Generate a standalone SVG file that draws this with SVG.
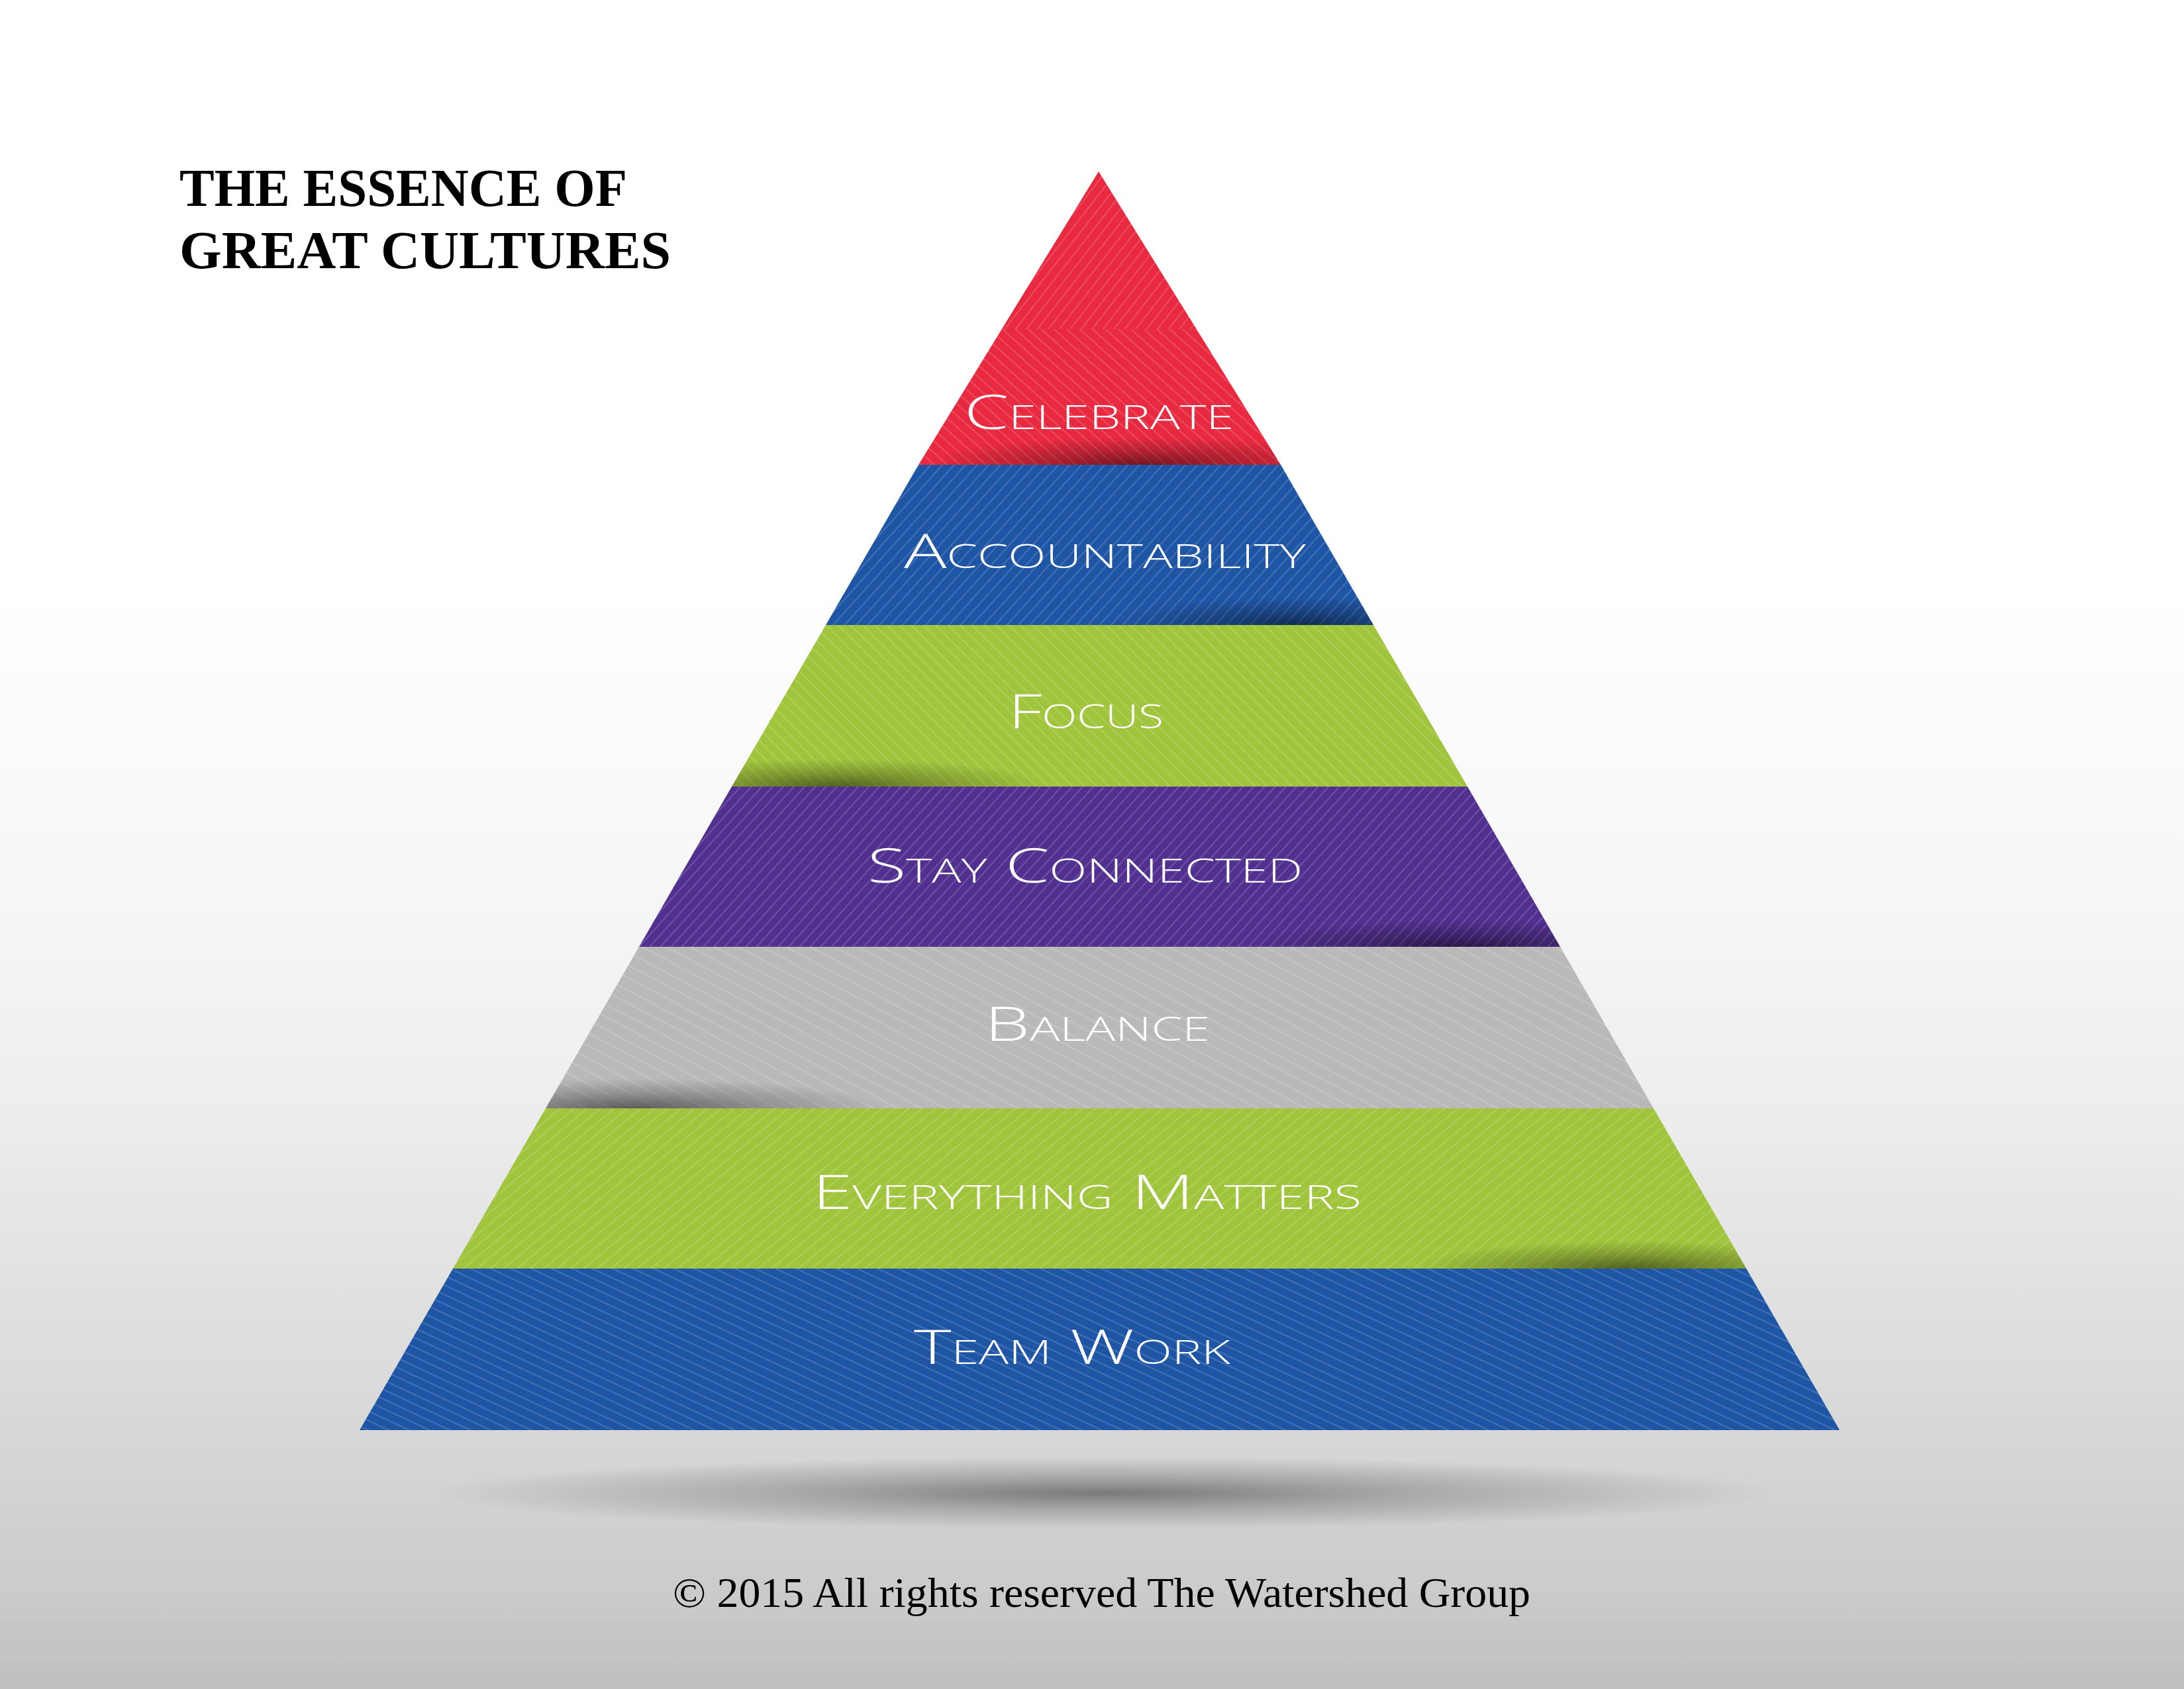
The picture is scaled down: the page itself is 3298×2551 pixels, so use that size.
<svg xmlns="http://www.w3.org/2000/svg" width="3298" height="2551" viewBox="0 0 3298 2551">
<style>
.title{font-family:"Liberation Serif","Times New Roman",serif;font-weight:bold;font-size:80px;fill:#000}
.foot{font-family:"Liberation Serif","Times New Roman",serif;font-size:64px;fill:#000}
.label{font-family:"Open Sans","Liberation Sans",sans-serif;font-weight:300;font-size:72px;font-variant:small-caps;fill:#fff}
.st{stroke:#fff;stroke-opacity:0.22;stroke-width:1.6}
</style>
<defs>
<linearGradient id="bg" x1="0" y1="0" x2="0" y2="1">
<stop offset="0" stop-color="#ffffff"/>
<stop offset="0.35" stop-color="#ffffff"/>
<stop offset="0.5" stop-color="#f8f8f8"/>
<stop offset="0.65" stop-color="#eeeeee"/>
<stop offset="0.85" stop-color="#d7d7d7"/>
<stop offset="0.95" stop-color="#cacaca"/>
<stop offset="1" stop-color="#bfbfbf"/>
</linearGradient>
<radialGradient id="sh">
<stop offset="0" stop-color="#000" stop-opacity="0.5"/>
<stop offset="0.5" stop-color="#000" stop-opacity="0.22"/>
<stop offset="1" stop-color="#000" stop-opacity="0"/>
</radialGradient>
<radialGradient id="ground">
<stop offset="0" stop-color="#000" stop-opacity="0.42"/>
<stop offset="0.45" stop-color="#000" stop-opacity="0.2"/>
<stop offset="1" stop-color="#000" stop-opacity="0"/>
</radialGradient>
<pattern id="pRedUp" width="40" height="13" patternUnits="userSpaceOnUse" patternTransform="rotate(-52)"><line class="st" x1="0" y1="6.5" x2="40" y2="6.5"/></pattern>
<pattern id="pRedDn" width="40" height="13" patternUnits="userSpaceOnUse" patternTransform="rotate(42)"><line class="st" x1="0" y1="6.5" x2="40" y2="6.5"/></pattern>
<pattern id="pAcc" width="40" height="13" patternUnits="userSpaceOnUse" patternTransform="rotate(-48)"><line class="st" x1="0" y1="6.5" x2="40" y2="6.5"/></pattern>
<pattern id="pFocus" width="40" height="13" patternUnits="userSpaceOnUse" patternTransform="rotate(45)"><line class="st" x1="0" y1="6.5" x2="40" y2="6.5"/></pattern>
<pattern id="pStay" width="40" height="12" patternUnits="userSpaceOnUse" patternTransform="rotate(-48)"><line class="st" x1="0" y1="6" x2="40" y2="6"/></pattern>
<pattern id="pBal" width="40" height="17" patternUnits="userSpaceOnUse" patternTransform="rotate(28)"><line class="st" x1="0" y1="8.5" x2="40" y2="8.5" stroke-opacity="0.3"/></pattern>
<pattern id="pEvery" width="40" height="13" patternUnits="userSpaceOnUse" patternTransform="rotate(-40)"><line class="st" x1="0" y1="6.5" x2="40" y2="6.5"/></pattern>
<pattern id="pTeam" width="40" height="13" patternUnits="userSpaceOnUse" patternTransform="rotate(25)"><line class="st" x1="0" y1="6.5" x2="40" y2="6.5" stroke-opacity="0.18"/></pattern>
<clipPath id="cRed"><polygon points="1659,259 1934,702 1387,702"/></clipPath>
<clipPath id="cAcc"><polygon points="1387,702 1934,702 2074,944 1247,944"/></clipPath>
<clipPath id="cFocus"><polygon points="1247,944 2074,944 2216,1188 1105,1188"/></clipPath>
<clipPath id="cStay"><polygon points="1105,1188 2216,1188 2356,1430 965,1430"/></clipPath>
<clipPath id="cBal"><polygon points="965,1430 2356,1430 2497,1674 824,1674"/></clipPath>
<clipPath id="cEvery"><polygon points="824,1674 2497,1674 2637,1916 684,1916"/></clipPath>
</defs>

<rect x="0" y="0" width="3298" height="2551" fill="url(#bg)"/>
<ellipse cx="1665" cy="2255" rx="1020" ry="55" fill="url(#ground)"/>

<g id="title">
<text class="title" x="271" y="311" textLength="676" lengthAdjust="spacingAndGlyphs">THE ESSENCE OF</text>
<text class="title" x="271" y="405" textLength="742" lengthAdjust="spacingAndGlyphs">GREAT CULTURES</text>
</g>

<g id="band-celebrate">
<polygon points="1659,259 1934,702 1387,702" fill="#e8293f"/>
<g clip-path="url(#cRed)">
<rect x="1380" y="259" width="560" height="238" fill="url(#pRedUp)"/>
<rect x="1380" y="497" width="560" height="205" fill="url(#pRedDn)"/>
<ellipse cx="1720" cy="702" rx="320" ry="42" fill="url(#sh)"/>
</g>
<text class="label" x="1456" y="648" textLength="407" lengthAdjust="spacingAndGlyphs">Celebrate</text>
</g>

<g id="band-accountability">
<polygon points="1387,702 1934,702 2074,944 1247,944" fill="#1f55a5"/>
<g clip-path="url(#cAcc)">
<rect x="1240" y="702" width="840" height="242" fill="url(#pAcc)"/>
<ellipse cx="1960" cy="944" rx="280" ry="42" fill="url(#sh)"/>
</g>
<text class="label" x="1365" y="858" textLength="607" lengthAdjust="spacingAndGlyphs">Accountability</text>
</g>

<g id="band-focus">
<polygon points="1247,944 2074,944 2216,1188 1105,1188" fill="#a0c43c"/>
<g clip-path="url(#cFocus)">
<rect x="1100" y="944" width="1120" height="244" fill="url(#pFocus)"/>
<ellipse cx="1260" cy="1188" rx="320" ry="42" fill="url(#sh)"/>
</g>
<text class="label" x="1523" y="1100" textLength="234" lengthAdjust="spacingAndGlyphs">Focus</text>
</g>

<g id="band-stay-connected">
<polygon points="1105,1188 2216,1188 2356,1430 965,1430" fill="#523090"/>
<g clip-path="url(#cStay)">
<rect x="960" y="1188" width="1400" height="242" fill="url(#pStay)"/>
<ellipse cx="2200" cy="1430" rx="320" ry="42" fill="url(#sh)"/>
</g>
<text class="label" x="1310" y="1333" textLength="657" lengthAdjust="spacingAndGlyphs">Stay Connected</text>
</g>

<g id="band-balance">
<polygon points="965,1430 2356,1430 2497,1674 824,1674" fill="#b8b9b8"/>
<g clip-path="url(#cBal)">
<rect x="820" y="1430" width="1680" height="244" fill="url(#pBal)"/>
<ellipse cx="960" cy="1674" rx="380" ry="45" fill="url(#sh)"/>
</g>
<text class="label" x="1487" y="1572" textLength="340" lengthAdjust="spacingAndGlyphs">Balance</text>
</g>

<g id="band-everything-matters">
<polygon points="824,1674 2497,1674 2637,1916 684,1916" fill="#a0c43c"/>
<g clip-path="url(#cEvery)">
<rect x="680" y="1674" width="1960" height="242" fill="url(#pEvery)"/>
<ellipse cx="2460" cy="1916" rx="320" ry="42" fill="url(#sh)"/>
</g>
<text class="label" x="1227" y="1826" textLength="829" lengthAdjust="spacingAndGlyphs">Everything Matters</text>
</g>

<g id="band-team-work">
<polygon points="684,1916 2637,1916 2778,2160 543,2160" fill="#1f55a5"/>
<polygon points="684,1916 2637,1916 2778,2160 543,2160" fill="url(#pTeam)"/>
<text class="label" x="1380" y="2060" textLength="478" lengthAdjust="spacingAndGlyphs">Team Work</text>
</g>

<g id="connectors"></g>

<g id="footer">
<text class="foot" x="1016" y="2427" textLength="1295" lengthAdjust="spacingAndGlyphs">© 2015 All rights reserved The Watershed Group</text>
</g>
</svg>
